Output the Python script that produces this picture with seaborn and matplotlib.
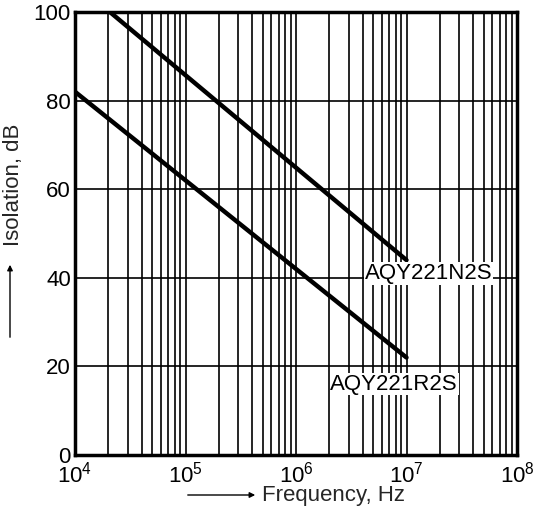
import matplotlib
matplotlib.use("Agg")
import matplotlib.pyplot as plt
import seaborn as sns
import numpy as np
import pandas as pd
from matplotlib.ticker import LogLocator, FixedLocator, NullFormatter

sns.set_theme(style="white")
plt.rcParams['font.family'] = ['Liberation Sans', 'DejaVu Sans']

n2s_freq = [2.07e4, 1e7]
n2s_iso = [100, 44]
r2s_freq = [1e4, 1e7]
r2s_iso = [82, 22]
labels = ["AQY221N2S", "AQY221R2S"]
label_pos = [(4.2e6, 41), (2.05e6, 16)]

df = pd.concat([
    pd.DataFrame({"f": n2s_freq, "iso": n2s_iso, "dev": labels[0]}),
    pd.DataFrame({"f": r2s_freq, "iso": r2s_iso, "dev": labels[1]}),
])

fig = plt.figure(figsize=(5.4, 5.12), dpi=100)
ax = fig.add_axes([75/540, 57/512, 442/540, 443/512])
sns.lineplot(data=df, x="f", y="iso", units="dev", estimator=None, color="black",
             linewidth=3.2, ax=ax, legend=False)
ax.set_xscale("log")
ax.set_xlim(1e4, 1e8)
ax.set_ylim(0, 100)
ax.xaxis.set_major_locator(LogLocator(base=10, numticks=10))
ax.xaxis.set_minor_locator(LogLocator(base=10, subs=np.arange(2, 10), numticks=100))
ax.xaxis.set_minor_formatter(NullFormatter())
ax.yaxis.set_major_locator(FixedLocator([0, 20, 40, 60, 80, 100]))
ax.grid(True, which="both", axis="x", color="black", linewidth=1.2)
ax.grid(True, which="major", axis="y", color="black", linewidth=1.2)
ax.tick_params(which="both", length=0, labelsize=16, colors="black")
ax.tick_params(axis="x", pad=5)
ax.tick_params(axis="y", pad=3)
for s in ax.spines.values():
    s.set_color("black"); s.set_linewidth(2.5)
ax.set_xlabel(""); ax.set_ylabel("")
for t, (x, y) in zip(labels, label_pos):
    ax.text(x, y, t, fontsize=16, color="black", ha="left", va="center",
            bbox=dict(facecolor="white", edgecolor="none", pad=0.5))

fig.text(262/540, 1 - 495/512, "Frequency, Hz", fontsize=16, ha="left", va="center")
fig.add_artist(matplotlib.patches.FancyArrowPatch((185/540, 1-495/512), (258/540, 1-495/512),
               transform=fig.transFigure, arrowstyle="-|>", mutation_scale=8, color="black", lw=1))
fig.text(14/540, 1 - 185/512, "Isolation, dB", fontsize=16, ha="center", va="center", rotation=90)
fig.add_artist(matplotlib.patches.FancyArrowPatch((10/540, 1-340/512), (10/540, 1-262/512),
               transform=fig.transFigure, arrowstyle="-|>", mutation_scale=8, color="black", lw=1))
fig.savefig("out.png", dpi=100)
